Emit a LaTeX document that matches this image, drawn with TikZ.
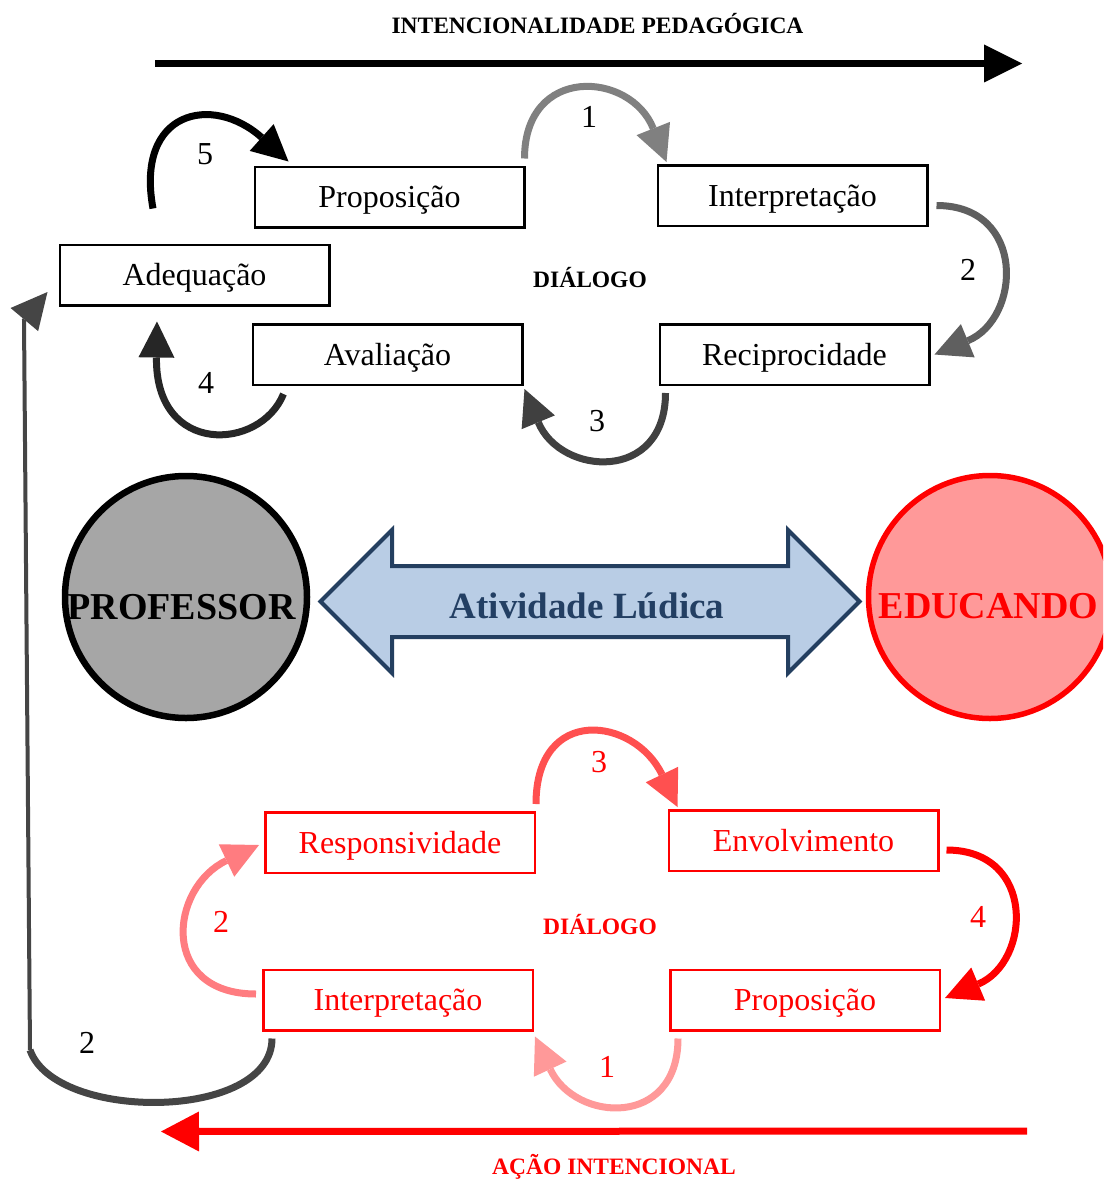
\documentclass[tikz,border=0pt]{standalone}
\usepackage{fontspec}
\setmainfont{Liberation Serif}
\usetikzlibrary{arrows.meta}
\definecolor{cone}{HTML}{808080}
\definecolor{ctwo}{HTML}{5F5F5F}
\definecolor{cthree}{HTML}{404040}
\definecolor{cfour}{HTML}{262626}
\definecolor{cbig}{HTML}{454545}
\definecolor{rthree}{HTML}{FF5050}
\definecolor{rfour}{HTML}{FF0000}
\definecolor{rone}{HTML}{FF9999}
\definecolor{rtwo}{HTML}{FF7C80}
\definecolor{profgray}{HTML}{A6A6A6}
\definecolor{edupink}{HTML}{FF9999}
\definecolor{arrfill}{HTML}{B9CDE5}
\definecolor{arrdraw}{HTML}{243F60}
\definecolor{arrtext}{HTML}{233F63}
\begin{document}
\begin{tikzpicture}[x=1pt,y=-1pt,
  box/.style={draw=black, line width=2.5pt, minimum width=269.5pt, minimum height=60.5pt,
    inner sep=0pt, font=\fontsize{32}{36}\selectfont, text height=21.1pt, text depth=0pt},
  redbox/.style={box, draw=red, text=red},
  lab/.style={font=\fontsize{32}{36}\selectfont, text height=21.6pt, text depth=0pt, inner sep=0pt},
  hdr/.style={font=\bfseries\fontsize{23.5}{28}\selectfont, text height=15.5pt, text depth=0pt, inner sep=0pt},
  bigtxt/.style={font=\bfseries\fontsize{38}{42}\selectfont, text height=25pt, text depth=0pt, inner sep=0pt},
  carrow/.style={line width=7pt, -{Triangle[length=36pt,width=36pt,line width=0pt]}},
  tip/.style={-{Triangle[length=#1,width=#1,line width=0pt]}}
]
\useasboundingbox (0,0) rectangle (1103,1180);
\clip (0,0) rectangle (1103,1180);
\fill[white] (0,0) rectangle (1103,1180);

% title and top arrow
\node[hdr] (title) at (597.5,26) {INTENCIONALIDADE PEDAGÓGICA};
\coordinate (ia) at (155,63.5);
\coordinate (ib) at (1022,63.5);
\draw[line width=7pt, -{Triangle[length=38pt,width=38pt,line width=0pt]}] (ia) -- (ib);

% top boxes
\node[box] (P1) at (389.5,197) {Proposição};
\node[box] (I1) at (792.5,195.5) {Interpretação};
\node[box] (A1) at (194.5,275) {Adequação};
\node[box] (Av1) at (387.5,354.5) {Avaliação};
\node[box] (R1) at (794.5,354.5) {Reciprocidade};
\node[hdr] (dia1) at (590,280) {DIÁLOGO};

% top curved arrows
\draw[carrow, cone] ([xshift=-1pt,yshift=7pt]P1.north east) .. controls +(0,-94) and +(-36,-91) .. ([xshift=10pt,yshift=2pt]I1.north west);
\draw[carrow, ctwo] ([xshift=8pt,yshift=-10pt]I1.east) .. controls +(90,0) and +(87,-36) .. ([xshift=4pt]R1.east);
\draw[carrow, cthree] ([xshift=7pt,yshift=-7pt]R1.south west) .. controls +(0,90) and +(36,87) .. ([xshift=1pt,yshift=-3pt]Av1.south east);
\draw[carrow, cfour] ([xshift=32pt,yshift=-8pt]Av1.south west) .. controls +(-23,57) and +(-2,135) .. ([xshift=-37.5pt,yshift=-15pt]A1.south);
\draw[carrow, black] ([xshift=-41.5pt,yshift=35pt]A1.north) .. controls +(-18,-98) and +(-76,-68) .. ([xshift=35pt,yshift=4pt]P1.north west);

\node[lab] (n1) at (589,116.5) {1};
\node[lab] (n2) at (968,270) {2};
\node[lab] (n3) at (597,421) {3};
\node[lab] (n4) at (206,383) {4};
\node[lab] (n5) at (205,154) {5};

% circles
\node[circle, draw=black, line width=6.5pt, fill=profgray, minimum size=242pt, inner sep=0pt] (prof) at (186,597) {};
\node[bigtxt] (proft) at (181.5,607) {PROFESSOR};
\node[circle, draw=red, line width=5.5pt, fill=edupink, minimum size=243pt, inner sep=0pt] (edu) at (990,597) {};
\node[bigtxt, text=red] (edut) at (988.5,606) {EDUCANDO};

% double arrow
\draw[line width=4pt, draw=arrdraw, fill=arrfill, line join=miter]
  (320.5,601.5) -- (392,530) -- (392,566) -- (788,566) -- (788,530) -- (859.5,601.5)
  -- (788,673) -- (788,637) -- (392,637) -- (392,673) -- cycle;
\node[font=\bfseries\fontsize{37}{42}\selectfont, text height=24.4pt, text depth=0pt, inner sep=0pt, text=arrtext] (ativ) at (587,606) {Atividade Lúdica};

% bottom boxes
\node[redbox] (Resp) at (400,842.5) {Responsividade};
\node[redbox] (Env) at (803.5,840.5) {Envolvimento};
\node[redbox] (I2) at (398,1000) {Interpretação};
\node[redbox] (P2) at (805,1000) {Proposição};
\node[hdr, text=red] (dia2) at (600,926.5) {DIÁLOGO};

% bottom curved arrows
\draw[carrow, rthree] ([yshift=7pt]Resp.north east) .. controls +(0,-100) and +(-43,-90) .. ([xshift=10pt,yshift=2pt]Env.north west);
\draw[carrow, rfour] ([xshift=7pt,yshift=-9.5pt]Env.east) .. controls +(90,0) and +(86,-36) .. ([xshift=4pt,yshift=2pt]P2.east);
\draw[carrow, rone] ([xshift=9pt,yshift=-7pt]P2.south west) .. controls +(0,90) and +(40,86) .. ([xshift=1pt,yshift=-5pt]I2.south east);
\draw[carrow, rtwo] ([xshift=-6pt,yshift=6pt]I2.west) .. controls +(-97,0) and +(-90,43) .. ([xshift=-5pt,yshift=-2.5pt]Resp.west);

\node[lab, text=red] (m3) at (599,762) {3};
\node[lab, text=red] (m4) at (978,917) {4};
\node[lab, text=red] (m1) at (607,1067) {1};
\node[lab, text=red] (m2) at (221,922) {2};

% big return connector
\coordinate (bc) at (30,1050);
\coordinate (bk) at (24,320);
\draw[line width=7pt, cbig] ([xshift=10pt,yshift=-7pt]I2.south west) .. controls +(0,83) and +(25,72) .. (bc);
\draw[line width=4pt, cbig, tip=36pt] (bc) -- (bk) -- ([xshift=-11pt,yshift=-17pt]A1.west);
\node[lab] (nb2) at (87,1043) {2};

% bottom arrow
\coordinate (ra) at (1027,1131);
\coordinate (rb) at (161,1131.5);
\draw[line width=7pt, red, -{Triangle[length=38pt,width=40pt,line width=0pt]}] (ra) -- (rb);
\node[font=\bfseries\fontsize{23.5}{28}\selectfont, inner sep=0pt, text=red, anchor=base] (acao) at (614,1174) {AÇÃO INTENCIONAL};
\end{tikzpicture}
\end{document}
